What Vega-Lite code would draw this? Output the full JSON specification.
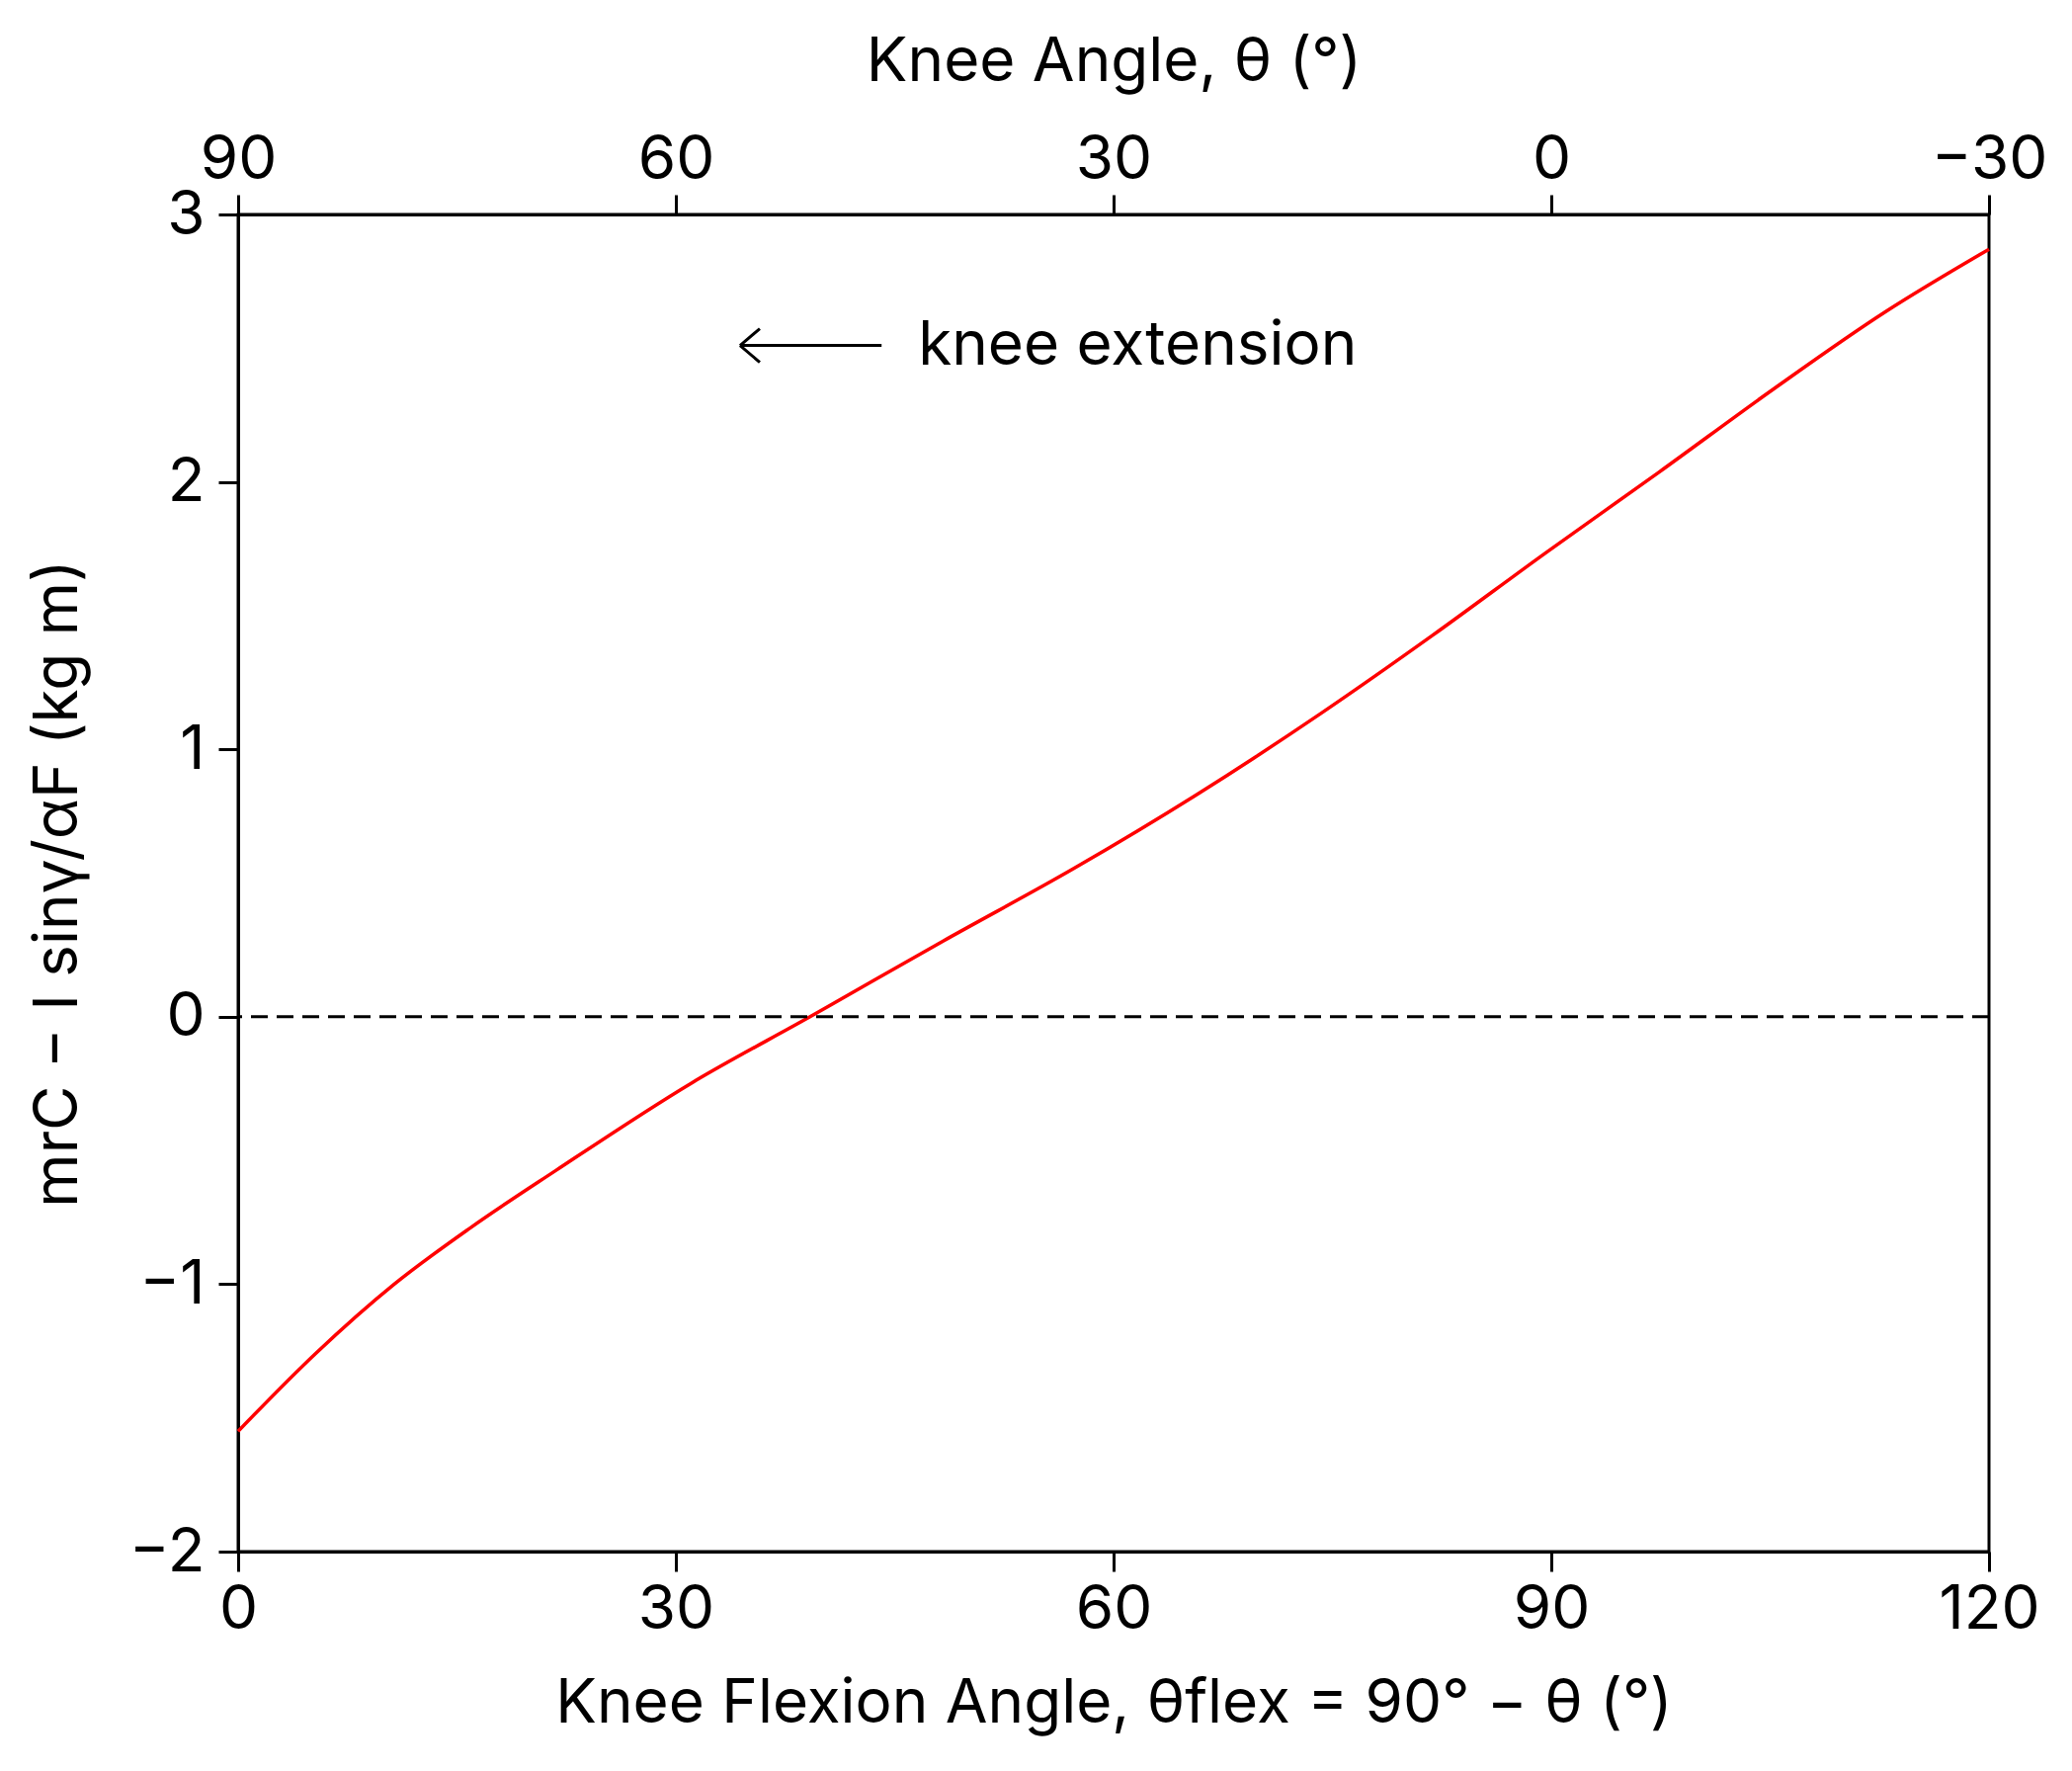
{
  "$schema": "https://vega.github.io/schema/vega-lite/v6.json",
  "width": 1772,
  "height": 1353,
  "autosize": {"type": "none"},
  "padding": {"left": 241, "top": 217, "right": 84, "bottom": 222},
  "background": "white",
  "config": {
    "font": "Inter",
    "view": {"stroke": "black", "strokeWidth": 3},
    "axis": {
      "grid": false,
      "domainColor": "black",
      "domainWidth": 3,
      "tickColor": "black",
      "tickWidth": 3,
      "tickSize": 20,
      "labelFont": "Inter",
      "labelFontSize": 62,
      "labelColor": "black",
      "labelFlush": false,
      "labelPadding": 8,
      "titleFont": "Inter",
      "titleFontSize": 62,
      "titleFontWeight": "normal",
      "titleColor": "black"
    }
  },
  "datasets": {
    "curve": [
      {"flex": 0, "value": -1.55},
      {"flex": 5.3, "value": -1.26},
      {"flex": 10.7, "value": -1.0},
      {"flex": 15.9, "value": -0.79},
      {"flex": 21.8, "value": -0.574},
      {"flex": 31.1, "value": -0.247},
      {"flex": 39.2, "value": 0.0},
      {"flex": 48.35, "value": 0.284},
      {"flex": 57.33, "value": 0.556},
      {"flex": 65.6, "value": 0.827},
      {"flex": 74.26, "value": 1.136},
      {"flex": 81.86, "value": 1.426},
      {"flex": 89.6, "value": 1.734},
      {"flex": 97.4, "value": 2.037},
      {"flex": 105.2, "value": 2.346},
      {"flex": 112.9, "value": 2.636},
      {"flex": 120, "value": 2.87}
    ],
    "note": [
      {"from": 44.1, "to": 34.4, "textAt": 46.6, "value": 2.51, "label": "knee extension"}
    ]
  },
  "resolve": {"axis": {"x": "independent"}},
  "layer": [
    {
      "data": {"name": "curve"},
      "mark": {"type": "line", "color": "#ff0000", "strokeWidth": 3.5, "interpolate": "monotone"},
      "encoding": {
        "x": {
          "field": "flex",
          "type": "quantitative",
          "scale": {"domain": [0, 120], "nice": false, "zero": false},
          "axis": {
            "orient": "bottom",
            "values": [0, 30, 60, 90, 120],
            "labelPadding": 8,
            "title": "Knee Flexion Angle, θflex = 90° − θ (°)",
            "titlePadding": 34
          }
        },
        "y": {
          "field": "value",
          "type": "quantitative",
          "scale": {"domain": [-2, 3], "nice": false, "zero": false},
          "axis": {
            "values": [-2, -1, 0, 1, 2, 3],
            "labelPadding": 14,
            "title": "mrC − I sinγ/αF (kg m)",
            "titlePadding": 40
          }
        }
      }
    },
    {
      "data": {"name": "note"},
      "mark": {"type": "rule", "color": "black", "strokeWidth": 3, "strokeDash": [17, 9]},
      "encoding": {
        "y": {
          "datum": 0,
          "type": "quantitative",
          "axis": {
            "values": [-2, -1, 0, 1, 2, 3],
            "labelPadding": 14,
            "title": "mrC − I sinγ/αF (kg m)",
            "titlePadding": 40
          }
        }
      }
    },
    {
      "data": {"name": "note"},
      "mark": {"type": "rule", "color": "black", "strokeWidth": 3},
      "encoding": {
        "x": {
          "field": "to",
          "type": "quantitative",
          "axis": {
            "orient": "top",
            "values": [0, 30, 60, 90, 120],
            "labelPadding": 4,
            "labelExpr": "datum.value > 90 ? '−' + (datum.value - 90) : '' + (90 - datum.value)",
            "title": "Knee Angle, θ (°)",
            "titlePadding": 36
          }
        },
        "x2": {"field": "from"},
        "y": {
          "field": "value",
          "type": "quantitative",
          "axis": {
            "values": [-2, -1, 0, 1, 2, 3],
            "labelPadding": 14,
            "title": "mrC − I sinγ/αF (kg m)",
            "titlePadding": 40
          }
        }
      }
    },
    {
      "data": {"name": "note"},
      "mark": {
        "type": "point",
        "shape": "M0,0L1,-0.85M0,0L1,0.85",
        "size": 1600,
        "filled": false,
        "stroke": "black",
        "strokeWidth": 3,
        "opacity": 1
      },
      "encoding": {
        "x": {"field": "to", "type": "quantitative", "axis": null},
        "y": {
          "field": "value",
          "type": "quantitative",
          "axis": {
            "values": [-2, -1, 0, 1, 2, 3],
            "labelPadding": 14,
            "title": "mrC − I sinγ/αF (kg m)",
            "titlePadding": 40
          }
        }
      }
    },
    {
      "data": {"name": "note"},
      "mark": {"type": "text", "align": "left", "baseline": "middle", "fontSize": 62, "font": "Inter", "color": "black"},
      "encoding": {
        "x": {"field": "textAt", "type": "quantitative", "axis": null},
        "y": {
          "field": "value",
          "type": "quantitative",
          "axis": {
            "values": [-2, -1, 0, 1, 2, 3],
            "labelPadding": 14,
            "title": "mrC − I sinγ/αF (kg m)",
            "titlePadding": 40
          }
        },
        "text": {"field": "label"}
      }
    }
  ]
}
